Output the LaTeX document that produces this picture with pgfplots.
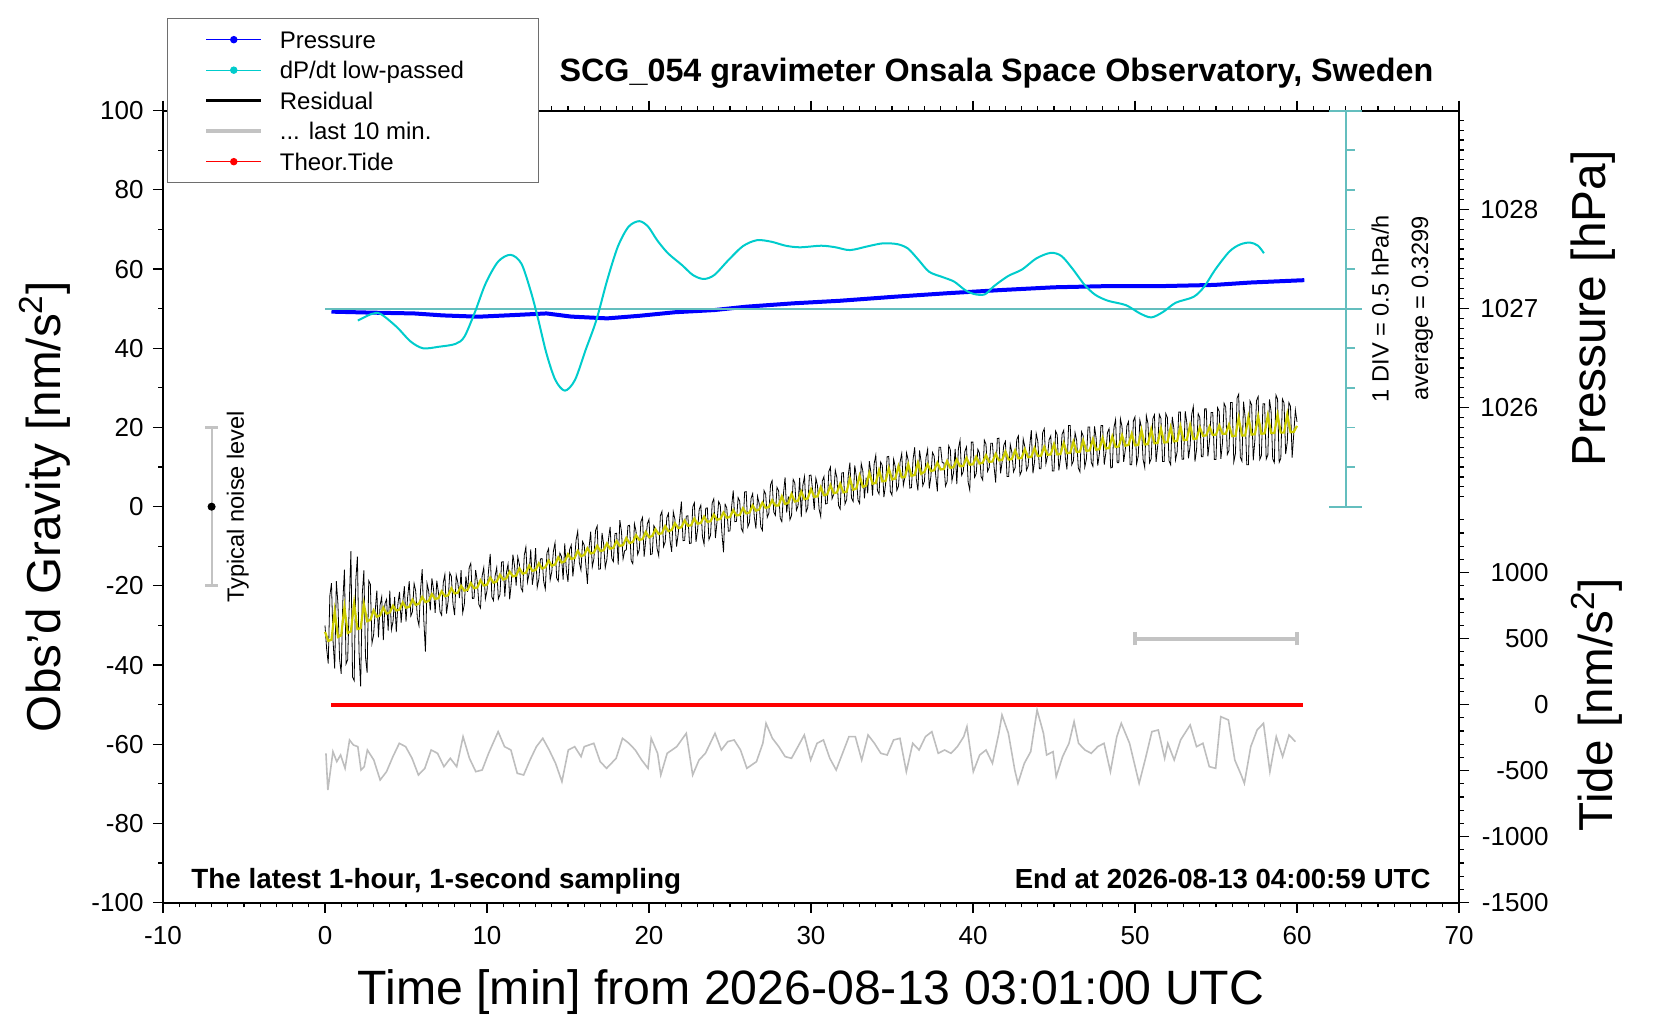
\documentclass[border=0pt]{standalone}
\usepackage{fontspec}
\setmainfont{Liberation Sans}
\usepackage{pgfplots}
\usepackage{pgfplotstable}
\pgfplotsset{compat=1.18}

\definecolor{cyanc}{RGB}{0,204,204}
\definecolor{tealc}{RGB}{100,190,190}
\definecolor{yell}{RGB}{204,204,0}
\definecolor{grayc}{RGB}{190,190,190}
\definecolor{barc}{RGB}{195,195,195}
\definecolor{legc}{RGB}{110,110,110}

% residual, 1 value every 0.1 min from 0 to 60 min (one line per minute)
\pgfplotstableread[row sep=\\]{y\\
-30.0\\-35.8\\-39.6\\-22.5\\-19.3\\-34.1\\-40.9\\-18.8\\-24.6\\-38.4\\
-42.2\\-24.0\\-15.9\\-39.7\\-38.6\\-24.4\\-11.2\\-43.0\\-43.9\\-18.7\\
-12.6\\-36.5\\-45.4\\-22.2\\-16.1\\-38.0\\-41.9\\-18.7\\-19.6\\-34.5\\
-32.4\\-26.3\\-21.2\\-33.0\\-24.9\\-22.8\\-33.7\\-24.5\\-23.4\\-31.3\\
-21.2\\-31.1\\-29.0\\-22.8\\-31.7\\-24.6\\-21.5\\-29.3\\-24.2\\-20.1\\
-29.0\\-22.9\\-18.8\\-27.6\\-26.5\\-19.4\\-21.3\\-28.1\\-30.0\\-20.9\\
-15.8\\-28.7\\-36.6\\-19.4\\-21.3\\-26.2\\-18.1\\-20.9\\-26.8\\-18.7\\
-21.6\\-26.5\\-27.4\\-19.2\\-17.1\\-27.0\\-23.9\\-16.7\\-17.6\\-24.5\\
-27.4\\-17.3\\-19.2\\-23.1\\-16.0\\-26.8\\-24.7\\-17.6\\-21.5\\-15.4\\
-14.3\\-23.2\\-23.1\\-16.0\\-18.9\\-24.7\\-25.6\\-17.5\\-15.4\\-23.3\\
-21.2\\-16.0\\-11.9\\-22.8\\-23.7\\-17.5\\-15.4\\-23.3\\-22.2\\-14.0\\
-13.9\\-22.7\\-16.6\\-14.5\\-23.4\\-19.2\\-12.1\\-15.0\\-19.9\\-12.7\\
-14.6\\-20.5\\-21.4\\-12.3\\-10.2\\-19.0\\-16.9\\-10.8\\-19.7\\-16.6\\
-10.5\\-20.4\\-18.3\\-13.2\\-13.1\\-18.9\\-20.8\\-11.7\\-10.6\\-18.5\\
-16.4\\-11.2\\-9.1\\-18.0\\-18.8\\-11.7\\-12.6\\-18.4\\-9.3\\-16.2\\
-19.0\\-10.9\\-9.7\\-17.6\\-13.5\\-8.4\\-6.2\\-14.1\\-16.0\\-8.8\\
-9.7\\-14.6\\-19.5\\-10.4\\-6.3\\-15.2\\-13.1\\-6.0\\-4.9\\-15.8\\
-15.7\\-6.6\\-9.5\\-15.4\\-13.3\\-8.2\\-5.1\\-13.0\\-13.9\\-6.8\\
-6.7\\-14.6\\-3.4\\-6.3\\-13.2\\-11.1\\-10.9\\-4.8\\-4.7\\-13.6\\
-14.4\\-4.3\\-6.2\\-12.1\\-10.9\\-3.8\\-2.7\\-12.6\\-8.4\\-4.3\\
-3.2\\-12.1\\-11.9\\-4.8\\-5.7\\-10.6\\-12.4\\-2.3\\-1.2\\-10.1\\
-8.9\\-2.8\\-1.7\\-8.6\\-11.4\\-1.3\\-3.2\\-10.1\\-6.9\\-2.8\\
1.3\\-8.6\\-8.5\\-2.4\\-2.3\\-9.3\\-9.2\\-0.1\\1.0\\-8.9\\
-5.8\\-0.7\\0.4\\-7.6\\-9.5\\-0.4\\-0.3\\-8.3\\-7.2\\0.9\\
2.0\\-7.9\\-3.8\\1.3\\0.4\\-6.6\\-11.5\\0.6\\-0.3\\-6.2\\
-6.1\\0.0\\4.1\\-3.8\\-3.7\\2.3\\1.4\\-5.5\\-6.4\\3.7\\
3.8\\-5.1\\-4.0\\2.1\\3.3\\-2.6\\-5.5\\2.6\\0.8\\-5.1\\
-6.0\\4.1\\3.2\\-2.7\\-1.6\\5.5\\6.6\\-1.3\\-2.2\\4.9\\
4.0\\-2.9\\-3.8\\3.3\\7.4\\-1.5\\2.6\\-3.3\\-2.2\\6.9\\
6.0\\-0.9\\0.2\\7.3\\-2.6\\5.5\\7.6\\-1.3\\-0.2\\7.9\\
8.0\\4.1\\-0.8\\7.2\\5.3\\-0.6\\-2.5\\6.5\\7.6\\0.7\\
0.8\\8.9\\10.0\\2.0\\3.1\\9.2\\7.3\\0.3\\-0.6\\8.5\\
8.6\\0.7\\1.8\\7.9\\11.1\\2.2\\1.3\\10.4\\7.6\\1.7\\
0.8\\10.9\\9.0\\2.1\\7.3\\3.4\\11.5\\8.6\\2.8\\10.9\\
13.0\\4.1\\3.2\\11.3\\10.4\\2.4\\5.5\\12.6\\12.7\\3.8\\
2.9\\12.0\\10.1\\4.1\\5.2\\11.3\\13.4\\5.4\\7.5\\13.6\\
11.7\\4.7\\4.8\\11.9\\15.0\\7.0\\4.1\\14.2\\11.3\\5.3\\
6.4\\12.4\\14.5\\4.6\\7.6\\13.7\\12.8\\7.8\\3.9\\15.0\\
15.0\\11.1\\11.1\\5.2\\6.3\\15.4\\14.4\\6.5\\8.6\\14.6\\
5.7\\14.7\\16.8\\7.9\\8.9\\14.0\\15.1\\6.2\\4.2\\16.3\\
16.3\\7.4\\8.4\\14.5\\13.5\\7.6\\6.7\\16.8\\15.8\\8.9\\
9.9\\16.0\\16.0\\10.1\\6.1\\17.2\\17.3\\8.4\\11.4\\15.5\\
16.5\\7.6\\7.6\\15.7\\13.7\\8.8\\9.8\\16.9\\17.9\\8.0\\
9.0\\17.1\\15.1\\9.2\\10.2\\15.3\\19.3\\8.4\\11.4\\18.5\\
16.5\\9.6\\9.6\\18.7\\19.7\\10.8\\12.8\\16.9\\17.9\\9.0\\
9.0\\19.1\\18.1\\9.2\\12.2\\18.3\\19.3\\12.4\\9.4\\20.5\\
20.5\\10.6\\11.6\\18.7\\16.7\\9.8\\8.8\\18.9\\17.9\\10.0\\
12.0\\20.1\\20.1\\11.2\\10.2\\20.3\\17.3\\10.4\\13.4\\20.5\\
20.5\\10.6\\13.6\\18.7\\19.7\\9.8\\9.9\\20.0\\22.0\\11.1\\
11.1\\22.2\\20.2\\11.3\\14.3\\20.4\\21.5\\10.6\\10.6\\21.7\\
22.7\\10.8\\12.8\\21.9\\19.9\\11.9\\9.9\\23.0\\21.0\\11.1\\
12.1\\22.2\\23.2\\11.3\\15.3\\23.3\\22.3\\11.4\\11.4\\23.5\\
22.5\\11.6\\10.6\\22.7\\19.7\\11.8\\13.8\\23.9\\23.9\\12.0\\
12.0\\24.1\\21.1\\12.2\\15.2\\23.3\\25.3\\11.4\\14.4\\23.5\\
22.5\\12.6\\12.6\\24.7\\24.7\\12.7\\16.7\\23.8\\23.8\\11.9\\
11.9\\25.0\\24.0\\12.1\\16.1\\26.1\\25.1\\13.2\\14.2\\26.3\\
26.3\\11.3\\13.4\\27.4\\28.4\\12.5\\11.5\\26.5\\22.5\\10.6\\
10.6\\26.7\\25.7\\11.7\\16.8\\26.8\\27.8\\11.9\\12.9\\26.0\\
26.0\\12.0\\13.0\\27.1\\24.1\\12.1\\11.1\\28.2\\27.2\\11.2\\
12.2\\27.2\\26.2\\13.3\\16.3\\26.3\\25.3\\12.4\\18.4\\24.4\\
21.4\\
}\resid

% smoothed residual, 1 value every 0.2 min
\pgfplotstableread[row sep=\\]{y\\
-31.6\\-33.9\\-33.6\\-26.4\\-32.9\\
-32.5\\-25.4\\-31.9\\-31.5\\-24.4\\
-30.9\\-30.7\\-24.6\\-28.9\\-28.6\\
-26.2\\-27.8\\-27.5\\-25.5\\-27.0\\
-26.7\\-25.0\\-26.2\\-26.0\\-24.2\\
-25.5\\-25.3\\-23.5\\-24.8\\-24.5\\
-22.8\\-24.1\\-23.8\\-22.1\\-23.3\\
-23.1\\-21.4\\-22.6\\-22.4\\-20.6\\
-21.9\\-21.7\\-20.0\\-21.2\\-21.0\\
-19.3\\-20.6\\-20.4\\-18.6\\-19.9\\
-19.7\\-17.9\\-19.2\\-18.9\\-17.2\\
-18.4\\-18.1\\-16.4\\-17.6\\-17.4\\
-15.6\\-16.9\\-16.7\\-14.9\\-16.2\\
-16.0\\-14.3\\-15.6\\-15.3\\-13.6\\
-14.9\\-14.6\\-12.8\\-14.1\\-13.8\\
-12.0\\-13.2\\-13.0\\-11.2\\-12.5\\
-12.2\\-10.5\\-11.8\\-11.6\\-9.9\\
-11.2\\-11.0\\-9.3\\-10.6\\-10.4\\
-8.7\\-9.9\\-9.7\\-7.9\\-9.2\\
-8.9\\-7.2\\-8.4\\-8.2\\-6.4\\
-7.7\\-7.4\\-5.7\\-6.9\\-6.7\\
-4.9\\-6.2\\-5.9\\-4.2\\-5.4\\
-5.2\\-3.5\\-4.8\\-4.7\\-3.0\\
-4.3\\-4.1\\-2.5\\-3.8\\-3.7\\
-2.0\\-3.3\\-3.1\\-1.5\\-2.8\\
-2.6\\-0.9\\-2.2\\-2.1\\-0.4\\
-1.7\\-1.5\\0.3\\-1.0\\-0.7\\
1.0\\-0.3\\-0.1\\1.6\\0.3\\
0.3\\2.6\\0.7\\0.9\\3.2\\
1.3\\1.5\\3.8\\1.9\\2.1\\
4.4\\2.5\\2.6\\4.9\\2.9\\
3.1\\5.4\\3.4\\3.6\\5.8\\
3.6\\3.8\\7.1\\4.3\\4.6\\
7.8\\5.0\\5.3\\8.5\\5.8\\
6.0\\9.2\\6.4\\6.5\\9.7\\
6.9\\7.1\\10.2\\7.4\\7.5\\
10.7\\7.8\\8.0\\11.1\\8.3\\
8.8\\10.7\\9.0\\9.2\\11.1\\
9.4\\9.5\\11.5\\9.8\\10.0\\
11.9\\10.2\\10.3\\12.3\\10.6\\
10.7\\12.6\\10.9\\11.1\\13.0\\
11.3\\11.4\\13.3\\11.7\\11.8\\
13.9\\11.9\\12.0\\14.2\\12.2\\
12.3\\14.5\\12.5\\12.6\\14.8\\
12.8\\12.9\\15.1\\13.1\\13.2\\
15.8\\13.2\\13.3\\16.1\\13.5\\
13.6\\16.4\\13.8\\13.9\\16.7\\
14.1\\14.2\\17.0\\14.4\\14.5\\
17.3\\14.7\\14.8\\17.7\\15.1\\
15.2\\18.0\\15.4\\15.6\\18.4\\
15.5\\15.6\\19.3\\15.7\\15.8\\
19.5\\16.0\\16.1\\19.7\\16.2\\
16.3\\20.0\\16.5\\16.6\\20.3\\
16.8\\16.9\\20.6\\17.1\\17.2\\
20.0\\17.9\\18.0\\20.2\\18.1\\
18.2\\20.5\\18.4\\18.4\\20.7\\
17.8\\17.9\\22.4\\18.0\\18.0\\
22.6\\18.2\\18.3\\22.8\\18.4\\
18.5\\23.0\\18.6\\18.6\\23.2\\
18.7\\18.7\\23.3\\18.8\\18.9\\
20.4\\
}\smooth

\pgfplotsset{
  common/.style={
    width=648pt, height=396pt, scale only axis,
    at={(0pt,0pt)}, anchor=south west,
    xmin=-10, xmax=70,
    tick align=outside,
    major tick length=5pt, minor tick length=2.3pt,
    tick style={line width=0.6pt, black},
    /pgf/number format/assume math mode=true,
    /pgf/number format/1000 sep={},
    ticklabel style={font=\fontsize{13}{15}\selectfont},
    axis line style={line width=1pt},
  }
}

\begin{document}
\begin{tikzpicture}
\path[use as bounding box] (-81.5pt,-58.65pt) rectangle (748.5pt,451.35pt);

% ---------- tide axis (lower right scale) ----------
\begin{axis}[common,
  ymin=-1500, ymax=4500,
  hide x axis, axis y line*=right,
  ytick={-1500,-1000,...,1000},
  minor ytick={-1400,-1300,...,1400},
  yticklabel style={text width=35pt, align=right, xshift=1.2pt},
  clip=false]
\addplot[red, line width=2pt] coordinates {(0.4,0) (10,0) (20,0) (30,0) (40,0) (50,0) (60.4,0)};
\addplot[barc, line width=2pt] coordinates {(50,500) (60,500)};
\addplot[barc, line width=1.6pt] coordinates {(50,450) (50,550)};
\addplot[barc, line width=1.6pt] coordinates {(60,450) (60,550)};
\end{axis}

% ---------- pressure axis (upper right scale) ----------
\begin{axis}[common,
  ymin=1021, ymax=1029,
  hide x axis, axis y line*=right,
  ytick={1026,1027,1028},
  minor ytick={1025.1,1025.2,...,1028.95},
  yticklabel style={xshift=2.2pt},
  clip=false]
\addplot[blue, line width=2pt] coordinates {
(0.4,1026.970) (2.87,1026.960) (5.5,1026.952) (7.28,1026.932) (9.48,1026.919)
(11.7,1026.936) (13.67,1026.952) (15.2,1026.920) (17.42,1026.902) (19.4,1026.928)
(21.6,1026.964) (24.03,1026.986) (26.0,1027.020) (28.9,1027.054) (31.79,1027.080)
(35.1,1027.120) (38.4,1027.156) (41.7,1027.188) (45.0,1027.216) (48.3,1027.228)
(51.6,1027.228) (54.9,1027.240) (57.1,1027.264) (60.45,1027.288)};
\end{axis}

% ---------- main gravity axis ----------
\begin{axis}[common,
  ymin=-100, ymax=100,
  xtick={-10,0,...,70}, minor x tick num=9,
  ytick={-100,-80,...,100}, minor y tick num=1,
  ytick pos=left,
  xticklabel style={yshift=-3.2pt},
  yticklabel style={xshift=-1.2pt},
  clip=false,
  unbounded coords=jump,
  legend cell align=left,
  legend style={at={(0.003,1.117)}, anchor=north west,
    draw=legc, line width=0.6pt, fill=white,
    inner xsep=0pt, inner ysep=2.9pt,
    font=\fontsize{12}{14}\selectfont,
    row sep=0pt,
    nodes={inner sep=0pt, text height=12pt, text depth=3.25pt}},
  legend image code/.code={
    \path (-18.5pt,0pt) (35.9pt,0pt);
    \draw[mark repeat=2,mark phase=2,#1] plot coordinates {(0pt,0pt) (13.75pt,0pt) (27.5pt,0pt)};
  },
]
\addlegendimage{blue, line width=0.5pt, mark=*, mark size=1.6pt}
\addlegendentry{\makebox[129.5pt][l]{Pressure}}
\addlegendimage{cyanc, line width=0.5pt, mark=*, mark size=1.6pt}
\addlegendentry{\makebox[129.5pt][l]{dP/dt low-passed}}
\addlegendimage{black, line width=1.3pt, mark=none}
\addlegendentry{\makebox[129.5pt][l]{Residual}}
\addlegendimage{barc, line width=1.8pt, mark=none}
\addlegendentry{\makebox[129.5pt][l]{... last 10 min.}}
\addlegendimage{red, line width=0.5pt, mark=*, mark size=1.6pt}
\addlegendentry{\makebox[129.5pt][l]{Theor.Tide}}

% typical noise level bar
\addplot[forget plot, barc, line width=1pt] coordinates {(-7,-20) (-7,20)};
\addplot[forget plot, barc, line width=1.4pt] coordinates {(-7.4,20) (-6.6,20) (nan,nan) (-7.4,-20) (-6.6,-20)};
\addplot[forget plot, only marks, mark=*, mark size=1.8pt, black] coordinates {(-7,0)};

% dP/dt reference line and scale
\addplot[forget plot, tealc, line width=0.9pt] coordinates {(0,50) (64,50)};
\addplot[forget plot, tealc, line width=0.9pt] coordinates {(63,0) (63,100)};
\addplot[forget plot, tealc, line width=0.9pt] coordinates {
(62,0) (64,0) (nan,nan) (62,100) (64,100) (nan,nan)
(63,10) (63.55,10) (nan,nan) (63,20) (63.55,20) (nan,nan) (63,30) (63.55,30) (nan,nan)
(63,40) (63.55,40) (nan,nan) (63,60) (63.55,60) (nan,nan) (63,70) (63.55,70) (nan,nan)
(63,80) (63.55,80) (nan,nan) (63,90) (63.55,90)};

% last 10 min, stretched
\addplot[forget plot, grayc, line width=0.8pt] coordinates {
(0.058,-62.28) (0.176,-71.54) (0.491,-61.86) (0.727,-64.38) (0.964,-62.70) (1.239,-66.07)
(1.515,-58.91) (1.751,-60.17) (2.027,-60.60) (2.224,-66.49) (2.420,-65.65) (2.617,-61.44)
(3.011,-63.96) (3.405,-69.01) (3.798,-66.91) (4.192,-63.12) (4.586,-59.75) (4.980,-60.60)
(5.373,-63.54) (5.767,-67.75) (6.161,-66.07) (6.554,-61.44) (6.948,-62.28) (7.342,-65.65)
(7.735,-63.54) (8.129,-65.65) (8.523,-58.07) (8.917,-63.54) (9.310,-66.91) (9.704,-66.49)
(10.098,-62.28) (10.688,-56.81) (11.082,-60.60) (11.476,-61.44) (11.869,-67.33) (12.263,-67.75)
(12.657,-63.96) (13.050,-60.60) (13.444,-58.49) (13.838,-61.44) (14.232,-64.80) (14.625,-69.43)
(15.019,-61.44) (15.413,-60.60) (15.806,-63.12) (16.003,-60.60) (16.594,-59.75) (16.987,-64.38)
(17.381,-66.07) (17.972,-63.54) (18.365,-58.49) (18.759,-59.75) (19.153,-61.44) (19.546,-63.96)
(19.940,-66.07) (20.137,-58.49) (20.531,-62.28) (20.728,-67.75) (21.121,-62.28) (21.712,-60.60)
(22.302,-57.23) (22.696,-67.75) (23.090,-63.96) (23.483,-62.28) (24.074,-57.23) (24.468,-61.44)
(24.861,-59.33) (25.255,-58.91) (25.649,-61.44) (26.042,-66.07) (26.633,-64.38) (27.027,-59.75)
(27.224,-54.70) (27.617,-58.49) (28.011,-60.60) (28.405,-63.12) (28.798,-63.54) (29.192,-60.60)
(29.586,-57.65) (29.979,-63.96) (30.373,-59.75) (30.767,-58.91) (31.161,-63.54) (31.554,-66.49)
(31.948,-62.28) (32.342,-58.07) (32.735,-58.07) (33.129,-63.96) (33.523,-57.65) (33.916,-59.75)
(34.310,-62.28) (34.704,-62.70) (35.098,-58.91) (35.491,-58.49) (35.885,-66.91) (36.279,-59.75)
(36.672,-61.44) (37.066,-58.07) (37.460,-56.81) (37.853,-62.28) (38.247,-61.44) (38.641,-62.28)
(39.035,-60.60) (39.428,-58.07) (39.625,-55.54) (40.019,-66.91) (40.413,-62.70) (40.806,-61.44)
(41.200,-64.80) (41.594,-57.23) (41.790,-52.60) (42.184,-57.23) (42.578,-66.49) (42.775,-69.86)
(43.168,-64.80) (43.562,-61.86) (43.956,-51.34) (44.350,-57.23) (44.546,-62.70) (44.940,-61.86)
(45.137,-68.17) (45.531,-63.12) (45.924,-59.75) (46.239,-54.28) (46.515,-59.75) (46.908,-61.44)
(47.302,-62.28) (47.696,-60.60) (48.089,-59.75) (48.483,-66.91) (48.877,-58.07) (49.153,-54.70)
(49.664,-59.75) (50.255,-69.86) (50.649,-63.54) (51.042,-56.81) (51.436,-56.39) (51.830,-63.54)
(52.027,-59.75) (52.420,-63.96) (52.814,-58.91) (53.405,-55.12) (53.798,-60.60) (54.192,-59.75)
(54.586,-65.65) (54.979,-66.07) (55.294,-53.02) (55.767,-53.86) (56.160,-63.96) (56.554,-67.75)
(56.751,-69.86) (57.145,-60.60) (57.538,-56.39) (57.932,-54.70) (58.326,-66.91) (58.720,-58.07)
(59.113,-63.12) (59.507,-57.65) (59.900,-59.33)};

% dP/dt low-passed (drawn in gravity units: 10 units = 0.5 hPa/h)
\addplot[forget plot, cyanc, line width=1pt, smooth, tension=0.5] coordinates {
(2.03,47.0) (2.87,48.65) (3.42,48.7) (4.41,45.45) (5.29,41.7) (6.06,40.0) (7.05,40.4)
(8.05,41.1) (8.6,42.9) (9.26,49.2) (9.92,56.4) (10.69,61.9) (11.46,63.6) (12.12,61.4)
(12.68,54.7) (13.12,48.0) (13.67,38.7) (14.22,32.0) (14.81,29.3) (15.43,32.0) (16.09,39.6)
(16.75,47.1) (17.42,57.2) (18.08,65.7) (18.74,70.7) (19.4,72.1) (19.95,70.7) (20.5,67.3)
(21.17,64.0) (22.04,61.0) (22.71,58.5) (23.37,57.5) (24.03,58.5) (24.91,62.3) (25.8,65.8)
(26.67,67.3) (27.56,66.9) (28.44,65.9) (29.32,65.5) (30.64,65.9) (31.52,65.5) (32.41,64.8)
(33.55,65.8) (34.44,66.5) (35.32,66.3) (35.98,65.2) (36.64,62.3) (37.3,59.3) (38.18,57.9)
(38.85,56.8) (39.51,54.7) (40.06,53.7) (40.72,53.6) (41.27,55.6) (42.15,58.2) (43.03,59.9)
(43.91,62.7) (44.8,64.1) (45.46,63.3) (46.12,60.2) (46.89,56.0) (47.55,53.5) (48.33,52.0)
(49.43,50.9) (50.31,48.8) (51.01,47.8) (51.74,49.2) (52.51,51.5) (53.62,53.0) (54.28,55.6)
(54.94,59.8) (55.82,64.4) (56.48,66.2) (57.1,66.7) (57.59,65.9) (57.96,64.0)};

% residual and smoothed residual
\addplot[forget plot, black, line width=0.4pt] table[x expr=\coordindex*0.1, y=y] {\resid};
\addplot[forget plot, yell, line width=1.1pt] table[x expr=\coordindex*0.2, y=y] {\smooth};

% texts
\node[rotate=90, anchor=base, font=\fontsize{11.8}{14}\selectfont] at (axis cs:-5.0,0) {Typical noise level};
\node[rotate=90, anchor=base, font=\fontsize{11.8}{14}\selectfont] at (axis cs:65.65,50) {1 DIV = 0.5 hPa/h};
\node[rotate=90, anchor=base, font=\fontsize{11.8}{14}\selectfont] at (axis cs:68.1,50) {average = 0.3299};
\node[anchor=base west, font=\bfseries\fontsize{13.9}{16}\selectfont] at (axis cs:-8.68,-96.3) {The latest 1-hour, 1-second sampling};
\node[anchor=base east, font=\bfseries\fontsize{13.8}{16}\selectfont] at (axis cs:68.68,-96.3) {End at 2026-08-13 04:00:59 UTC};
\node[anchor=base east, font=\bfseries\fontsize{16.15}{19}\selectfont] at (axis cs:68.85,107.25) {SCG\_054 gravimeter Onsala Space Observatory, Sweden};
\node[anchor=base, font=\fontsize{24.1}{28}\selectfont] at (axis cs:30,-125.8) {Time [min] from 2026-08-13 03:01:00 UTC};
\node[rotate=90, anchor=base, font=\fontsize{23.8}{28}\selectfont] at (axis cs:-16.3,0) {Obs'd Gravity [nm/s\textsuperscript{2}]};
\node[rotate=90, anchor=base, font=\fontsize{23.9}{28}\selectfont] at (axis cs:79.05,50) {Pressure [hPa]};
\node[rotate=90, anchor=base, font=\fontsize{23.8}{28}\selectfont] at (axis cs:79.5,-50) {Tide [nm/s\textsuperscript{2}]};
\end{axis}
\end{tikzpicture}
\end{document}
